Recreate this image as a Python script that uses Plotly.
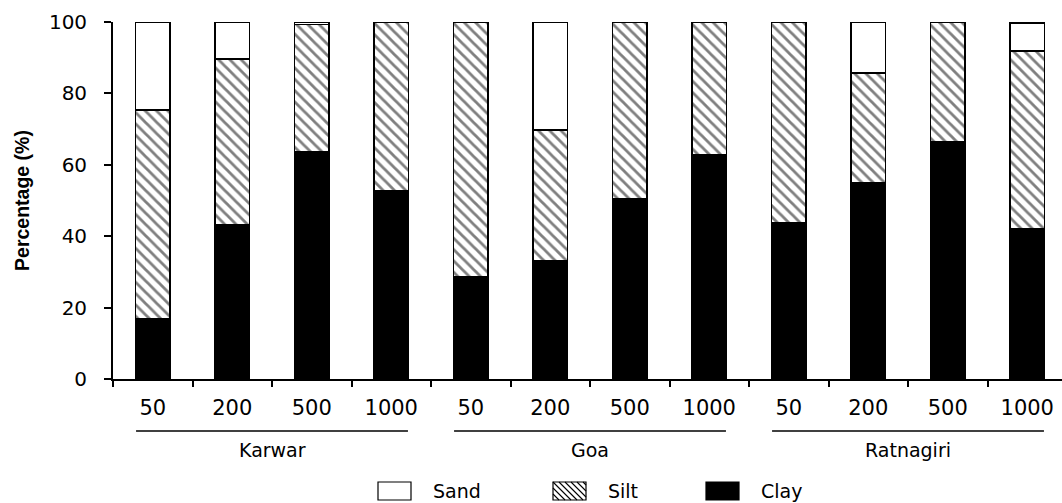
import plotly.graph_objects as go

depths = ["50", "200", "500", "1000"]
sites = ["Karwar", "Goa", "Ratnagiri"]
clay = [16.7, 43.1, 63.6, 52.7, 28.6, 33.0, 50.4, 62.9, 43.6, 54.8, 66.4, 42.0]
silt = [58.6, 46.5, 35.7, 47.3, 71.4, 36.7, 49.6, 37.1, 56.4, 30.9, 33.6, 49.9]
sand = [24.7, 10.4, 0.7, 0.0, 0.0, 30.3, 0.0, 0.0, 0.0, 14.3, 0.0, 7.8]
legend_names = ["Sand", "Silt", "Clay"]

cats = [f"{s} {d}" for s in sites for d in depths]
ticktext = [d for s in sites for d in depths]
n = len(cats)

# layout geometry (pixels)
W, H = 1062, 503
ML, MT, MB = 113, 22, 124
PW, PH = W - ML, H - MT - MB
def px(x):  # pixel x -> paper
    return (x - ML) / PW
def py(y):  # pixel y -> paper
    return (H - MB - y) / PH

FONT = "DejaVu Sans, Liberation Sans, Arial"

fig = go.Figure()
line = dict(color="black", width=1.8)
silt_pattern = dict(shape="\\", fgcolor="black", bgcolor="white", size=8, solidity=0.35)
fig.add_trace(go.Bar(x=cats, y=clay, name="Clay", marker=dict(color="black", line=line)))
fig.add_trace(go.Bar(x=cats, y=silt, name="Silt",
                     marker=dict(color="white", line=line, pattern=silt_pattern)))
fig.add_trace(go.Bar(x=cats, y=sand, name="Sand", marker=dict(color="white", line=line)))

shapes = []
annotations = []
# group lines and labels
for i, s in enumerate(sites):
    first = i * len(depths)
    last = first + len(depths) - 1
    shapes.append(dict(type="line", xref="x", yref="paper", x0=first - 0.21, x1=last + 0.21,
                       y0=py(431), y1=py(431), line=dict(color="black", width=1.5)))
    annotations.append(dict(x=(first + last) / 2, y=py(450), xref="x", yref="paper",
                            text=s, showarrow=False, yanchor="middle",
                            font=dict(family=FONT, size=19, color="black")))

# custom legend
box_w, box_h = 33, 18
box_top = 482
box_lefts = [378, 553, 706]
fills = {"Sand": "white", "Silt": "white", "Clay": "black"}
for name, bx in zip(legend_names, box_lefts):
    shapes.append(dict(type="rect", xref="paper", yref="paper",
                       x0=px(bx), x1=px(bx + box_w), y0=py(box_top + box_h), y1=py(box_top),
                       fillcolor=fills[name], line=dict(color="black", width=1.2)))
    if name == "Silt":
        step = 6
        c = -box_h
        while c < box_w:
            t0 = max(0, -c)
            t1 = min(box_h, box_w - c)
            if t1 > t0:
                shapes.append(dict(type="line", xref="paper", yref="paper",
                                   x0=px(bx + c + t0), y0=py(box_top + t0),
                                   x1=px(bx + c + t1), y1=py(box_top + t1),
                                   line=dict(color="black", width=1.1)))
            c += step
    annotations.append(dict(x=px(bx + 54), y=py(box_top + box_h / 2), xref="paper", yref="paper",
                            text=name, showarrow=False, xanchor="left", yanchor="middle",
                            borderpad=0,
                            font=dict(family=FONT, size=19, color="black")))

fig.update_layout(
    barmode="stack",
    bargap=0.566,
    width=W, height=H,
    margin=dict(l=ML, r=0, t=MT, b=MB, pad=0),
    plot_bgcolor="white", paper_bgcolor="white",
    showlegend=False,
    font=dict(family=FONT, size=18, color="black"),
    xaxis=dict(type="category", tickmode="array", tickvals=cats, ticktext=ticktext,
               range=[-0.5, -0.5 + PW / 79.5], tickson="boundaries",
               showline=True, linecolor="black", linewidth=1.8, ticks="outside",
               ticklen=6, tickcolor="black", tickwidth=1.5, showgrid=False, zeroline=False,
               tickfont=dict(family=FONT, size=21), ticklabelstandoff=9),
    yaxis=dict(range=[0, 100], tickvals=[0, 20, 40, 60, 80, 100], showline=True,
               linecolor="black", linewidth=1.8, ticks="outside", ticklen=7,
               tickcolor="black", tickwidth=1.5, showgrid=False, zeroline=False,
               tickfont=dict(family=FONT, size=20), ticklabelstandoff=13,
               title=dict(text="<b>Percentage (%)</b>", standoff=14,
                          font=dict(family="Liberation Sans, Arial", size=19.5))),
    shapes=shapes,
    annotations=annotations,
)
fig.write_html("out.html")
